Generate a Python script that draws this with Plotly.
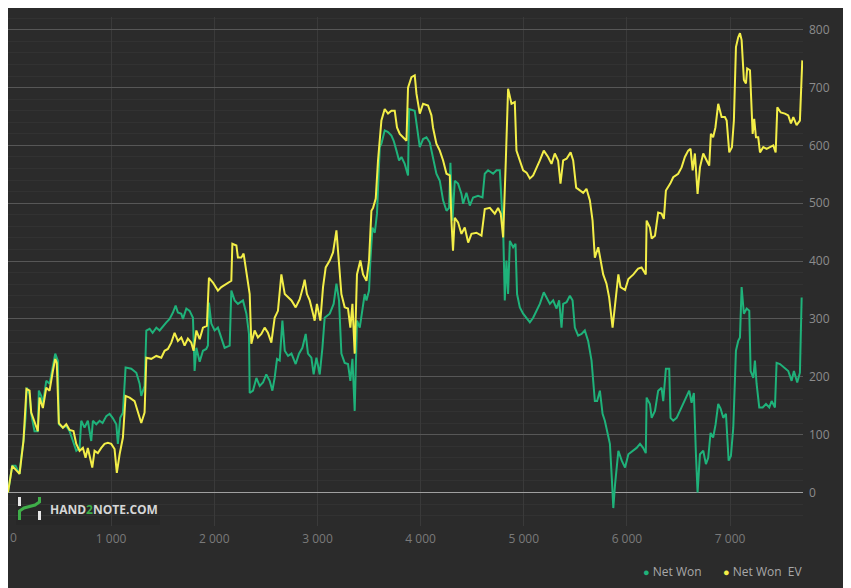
import plotly.graph_objects as go

# hands played vs. cumulative winnings ($)
net_won_hands = [0, 41, 73, 112, 128, 150, 170, 182, 209, 225, 257, 289, 299, 322, 338, 371, 403, 435, 458, 483,
                 493, 532, 565, 597, 629, 662, 694, 710, 742, 774, 807, 823, 856, 888, 917, 953, 985, 1014, 1050, 1065,
                 1088, 1114, 1140, 1195, 1244, 1276, 1292, 1324, 1341, 1373, 1402, 1438, 1470, 1502, 1535, 1567, 1599,
                 1625, 1647, 1680, 1696, 1729, 1761, 1793, 1809, 1826, 1858, 1890, 1922, 1938, 1948, 1971, 2003, 2035,
                 2068, 2100, 2149, 2165, 2197, 2229, 2278, 2311, 2336, 2343, 2375, 2408, 2440, 2472, 2504, 2537, 2563,
                 2585, 2608, 2634, 2660, 2683, 2715, 2748, 2789, 2821, 2854, 2886, 2908, 2941, 2963, 2990, 3022, 3048,
                 3070, 3119, 3157, 3184, 3209, 3232, 3264, 3296, 3319, 3339, 3361, 3383, 3410, 3436, 3458, 3475, 3500,
                 3513, 3533, 3556, 3577, 3604, 3620, 3652, 3684, 3717, 3739, 3766, 3791, 3814, 3846, 3878, 3888, 3943,
                 3975, 3992, 4024, 4057, 4089, 4120, 4153, 4186, 4218, 4251, 4276, 4289, 4309, 4331, 4363, 4396, 4412,
                 4444, 4477, 4509, 4557, 4600, 4622, 4654, 4703, 4736, 4768, 4784, 4800, 4816, 4832, 4848, 4865, 4897,
                 4920, 4935, 4962, 4994, 5027, 5059, 5091, 5124, 5156, 5194, 5221, 5253, 5285, 5318, 5343, 5366, 5382,
                 5415, 5447, 5473, 5495, 5527, 5560, 5592, 5624, 5657, 5689, 5711, 5738, 5764, 5786, 5808, 5835, 5855,
                 5868, 5885, 5917, 5950, 5982, 6014, 6063, 6094, 6127, 6157, 6183, 6191, 6223, 6240, 6272, 6303, 6336,
                 6352, 6378, 6410, 6423, 6449, 6482, 6514, 6546, 6578, 6604, 6627, 6649, 6669, 6685, 6708, 6740, 6766,
                 6788, 6811, 6836, 6860, 6885, 6908, 6934, 6960, 6986, 7008, 7031, 7057, 7079, 7096, 7112, 7134, 7161,
                 7186, 7199, 7225, 7241, 7257, 7283, 7316, 7348, 7380, 7403, 7435, 7451, 7484, 7532, 7564, 7597, 7619,
                 7651, 7677, 7694]
net_won = [0, 46, 46, 32, 60, 89, 129, 181, 170, 136, 106, 106, 176, 167, 153, 193, 188, 216, 240, 228,
           118, 112, 115, 106, 89, 72, 77, 124, 112, 124, 89, 124, 118, 124, 120, 132, 136, 129, 118, 84,
           129, 138, 216, 214, 207, 188, 167, 184, 280, 283, 276, 285, 280, 288, 294, 300, 311,
           323, 311, 309, 300, 318, 314, 302, 210, 250, 226, 245, 248, 254, 328, 292, 280, 285,
           268, 250, 254, 349, 332, 326, 332, 309, 274, 172, 176, 198, 184, 190, 204, 193, 176,
           198, 231, 228, 297, 245, 236, 240, 222, 240, 250, 274, 240, 233, 204, 233, 204, 250,
           302, 309, 326, 361, 332, 240, 224, 222, 193, 231, 141, 297, 285, 320, 343, 332, 349,
           401, 458, 449, 482, 597, 603, 626, 623, 617, 608, 591, 574, 580, 568, 548, 663, 660,
           620, 597, 611, 614, 605, 580, 551, 539, 505, 487, 492, 570, 470, 539, 534, 516, 499,
           518, 496, 510, 513, 510, 551, 557, 551, 557, 557, 505, 458, 332, 401, 343, 435, 424,
           430, 343, 320, 309, 302, 294, 302, 314, 326, 346, 337, 326, 332, 318, 332, 285, 326,
           329, 340, 332, 285, 271, 274, 280, 262, 228, 158, 158, 176, 136, 124, 106, 84, 20,
           -27, 14, 72, 55, 43, 66, 72, 77, 84, 77, 68, 164, 153, 129, 141, 176, 181,
           158, 214, 214, 129, 124, 129, 141, 153, 167, 176, 155, 172, 66, 0, 66, 72, 49,
           60, 103, 95, 118, 153, 145, 129, 136, 55, 63, 112, 245, 262, 268, 355, 309, 318,
           314, 210, 198, 228, 188, 147, 147, 153, 147, 158, 147, 224, 222, 214, 210, 193, 210,
           190, 207, 337]

ev_hands = [0, 41, 112, 150, 179, 209, 225, 257, 289, 306, 338, 371, 403, 435, 458, 473, 493, 532, 565, 597,
            635, 662, 694, 726, 752, 774, 817, 839, 871, 904, 936, 968, 1001, 1033, 1055, 1082, 1114, 1140, 1179,
            1227, 1259, 1292, 1324, 1341, 1389, 1438, 1486, 1518, 1550, 1583, 1615, 1647, 1680, 1712, 1744, 1777,
            1799, 1826, 1858, 1890, 1928, 1948, 1987, 2035, 2068, 2117, 2165, 2175, 2214, 2229, 2262, 2284, 2311,
            2343, 2359, 2391, 2423, 2456, 2488, 2520, 2553, 2585, 2617, 2650, 2683, 2715, 2748, 2789, 2828, 2860,
            2876, 2898, 2925, 2957, 2973, 2995, 3028, 3054, 3080, 3119, 3151, 3184, 3209, 3232, 3264, 3296, 3319,
            3339, 3361, 3383, 3416, 3442, 3475, 3500, 3523, 3539, 3565, 3587, 3620, 3652, 3684, 3717, 3749, 3771,
            3798, 3830, 3863, 3878, 3911, 3943, 3960, 3992, 4024, 4072, 4105, 4120, 4153, 4186, 4218, 4251, 4283,
            4299, 4314, 4331, 4363, 4396, 4428, 4461, 4493, 4541, 4590, 4622, 4671, 4719, 4751, 4777, 4800, 4826,
            4848, 4881, 4913, 4929, 4962, 4994, 5027, 5059, 5091, 5124, 5156, 5194, 5236, 5269, 5301, 5333, 5356,
            5382, 5415, 5454, 5479, 5508, 5544, 5576, 5608, 5641, 5667, 5689, 5722, 5747, 5770, 5802, 5828, 5861,
            5885, 5917, 5938, 5982, 6014, 6063, 6094, 6109, 6142, 6183, 6191, 6223, 6240, 6272, 6303, 6336, 6358,
            6378, 6420, 6449, 6497, 6530, 6562, 6594, 6617, 6637, 6659, 6685, 6708, 6740, 6773, 6798, 6814, 6836,
            6858, 6885, 6918, 6950, 6967, 6992, 7018, 7037, 7057, 7079, 7096, 7112, 7134, 7154, 7166, 7193, 7219,
            7234, 7251, 7273, 7290, 7322, 7354, 7387, 7419, 7442, 7458, 7491, 7532, 7564, 7590, 7613, 7645, 7677,
            7700]
net_won_ev = [0, 46, 32, 89, 179, 176, 138, 120, 106, 164, 146, 181, 176, 210, 231, 224, 120, 112, 118, 108,
              106, 84, 72, 77, 60, 77, 43, 72, 68, 77, 84, 86, 84, 75, 34, 66, 95, 167, 164,
              158, 138, 120, 138, 233, 231, 236, 233, 245, 248, 259, 276, 262, 268, 254, 266, 259,
              245, 280, 265, 285, 288, 371, 363, 349, 355, 361, 366, 430, 427, 406, 406, 413, 384,
              343, 257, 280, 268, 274, 285, 276, 259, 302, 314, 377, 343, 337, 332, 320, 334, 355,
              368, 343, 332, 309, 297, 326, 297, 355, 389, 401, 415, 453, 401, 343, 320, 318, 285,
              326, 240, 377, 401, 377, 366, 401, 487, 492, 508, 574, 643, 663, 655, 660, 660, 631,
              620, 614, 608, 700, 718, 721, 689, 655, 672, 669, 652, 631, 603, 591, 574, 551, 548,
              470, 418, 475, 467, 447, 458, 432, 447, 449, 444, 490, 492, 482, 492, 482, 441, 574,
              698, 672, 675, 591, 574, 557, 553, 543, 548, 560, 574, 591, 580, 568, 586, 574, 534,
              574, 577, 588, 574, 527, 522, 518, 525, 505, 470, 406, 424, 401, 377, 361, 337, 285,
              326, 377, 355, 350, 369, 377, 384, 387, 389, 377, 470, 458, 439, 444, 484, 482, 473,
              522, 534, 545, 551, 562, 580, 591, 594, 557, 586, 516, 562, 586, 574, 565, 620, 614,
              631, 672, 649, 649, 643, 588, 597, 643, 770, 787, 794, 782, 713, 707, 733, 730, 620,
              646, 614, 614, 588, 597, 594, 597, 600, 588, 666, 657, 655, 652, 638, 649, 635, 643,
              747]

x_ticks = [1000, 2000, 3000, 4000, 5000, 6000, 7000]
series_names = ["Net Won", "Net Won\u00a0 EV"]

GREEN = "#1fb27a"
YELLOW = "#f3ee48"
BG = "#2b2b2b"

fig = go.Figure()

fig.add_trace(go.Scatter(x=net_won_hands, y=net_won, mode="lines", name=series_names[0],
                         line=dict(color=GREEN, width=2), showlegend=False))
fig.add_trace(go.Scatter(x=ev_hands, y=net_won_ev, mode="lines", name=series_names[1],
                         line=dict(color=YELLOW, width=2), showlegend=False))

# plot area on screen: x 8..803, y 17..526 (page has an 8px body margin)
def px(x):
    return (x - 8) / 795

def py(y):
    return (526 - y) / 509

# HAND2NOTE logo: dark box, white stubs, green stroke
shapes = [
    dict(type="rect", xref="paper", yref="paper", x0=px(16), x1=px(160), y0=py(525), y1=py(493),
         fillcolor="#282828", line_width=0, layer="below"),
    dict(type="rect", xref="paper", yref="paper", x0=px(18), x1=px(21), y0=py(506), y1=py(497),
         fillcolor="#e6e6e6", line_width=0),
    dict(type="rect", xref="paper", yref="paper", x0=px(38), x1=px(41), y0=py(520), y1=py(511),
         fillcolor="#e6e6e6", line_width=0),
    dict(type="path", xref="paper", yref="paper",
         path=f"M {px(19.5)},{py(520)} L {px(19.5)},{py(511)} L {px(24)},{py(508)} "
              f"L {px(35)},{py(505)} L {px(39.5)},{py(502)} L {px(39.5)},{py(497)}",
         line=dict(color="#3fae49", width=3)),
]

legend_font = dict(family="Open Sans", size=12, color="#a8a8a8")
annotations = [
    dict(text="<b>HAND<span style='color:#3fae49'>2</span>NOTE.COM</b>", xref="paper", yref="paper",
         x=px(48), y=py(509), xanchor="left", yanchor="middle", showarrow=False,
         font=dict(family="Open Sans", size=12, color="#d6d6d6")),
    # the "0" hand label sits at the very left edge
    dict(text="0", xref="paper", yref="paper", x=0, y=py(537), xanchor="left", yanchor="middle",
         showarrow=False, font=dict(family="Open Sans", size=12, color="#7a7a7a")),
    # legend with dot markers
    dict(text=f"<span style='color:{GREEN};font-size:11px'>●</span> {series_names[0]}",
         xref="paper", yref="paper", x=px(704), y=py(571), xanchor="right", yanchor="middle",
         showarrow=False, font=legend_font),
    dict(text=f"<span style='color:{YELLOW};font-size:11px'>●</span> {series_names[1]}",
         xref="paper", yref="paper", x=px(805), y=py(571), xanchor="right", yanchor="middle",
         showarrow=False, font=legend_font),
]

fig.update_layout(
    width=851, height=588,
    paper_bgcolor=BG, plot_bgcolor=BG,
    margin=dict(l=0, r=56, t=9, b=70, autoexpand=False),
    separators=". ",
    showlegend=False,
    font=dict(family="Open Sans", size=12, color="#8c8c8c"),
    xaxis=dict(range=[0, 7707], tickvals=x_ticks, tickformat=",d", showgrid=True, automargin=False,
               gridcolor="#3a3a3a", gridwidth=1, zeroline=False, showline=False,
               ticks="", ticklabelstandoff=4, tickfont=dict(size=12, color="#7a7a7a")),
    yaxis=dict(range=[-58, 822], dtick=100, tick0=0, side="right", showgrid=True, automargin=False,
               gridcolor="#575757", gridwidth=1, zeroline=True, zerolinecolor="#a0a0a0",
               zerolinewidth=1, showline=False, ticks="", ticklabelstandoff=5,
               tickfont=dict(size=12, color="#8c8c8c"),
               minor=dict(dtick=20, showgrid=True, gridcolor="#323232", gridwidth=1)),
    shapes=shapes,
    annotations=annotations,
)

fig.write_html("out.html")
